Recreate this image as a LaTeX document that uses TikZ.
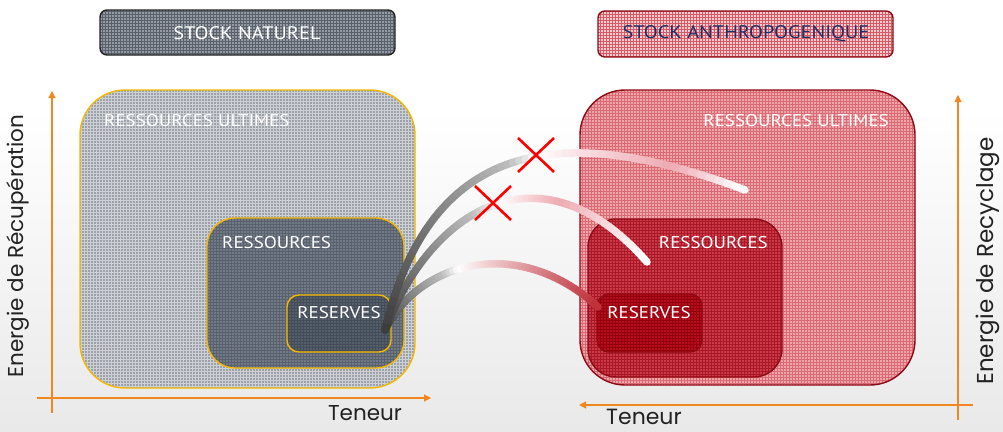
\documentclass[tikz,border=0pt]{standalone}
\usepackage{fontspec}
\setmainfont{PT Sans}
\newfontfamily\boxfont{PT Sans}[FakeStretch=1.12]
\newfontfamily\axisfont{Poppins}
\usetikzlibrary{arrows.meta,patterns}

\definecolor{axisorange}{HTML}{F0881E}
\definecolor{gold}{HTML}{F5B800}
\definecolor{darkred}{HTML}{8E0A14}
\definecolor{navy}{HTML}{1E2F66}
\definecolor{labelgrey}{HTML}{222222}
\definecolor{bggrey}{HTML}{E9E9E9}
% box fills: base colour and grid colour
\definecolor{natbase}{HTML}{959BA4}
\definecolor{natgrid}{HTML}{5A606A}
\definecolor{ultbase}{HTML}{9CA1A9}
\definecolor{ultgrid}{HTML}{CDD0D5}
\definecolor{resbase}{HTML}{717A86}
\definecolor{resgrid}{HTML}{59616C}
\definecolor{rsvbase}{HTML}{555E6B}
\definecolor{rsvgrid}{HTML}{444C58}
\definecolor{antbase}{HTML}{F4CDD0}
\definecolor{antgrid}{HTML}{D65A66}
\definecolor{rultbase}{HTML}{EEA6AB}
\definecolor{rultgrid}{HTML}{D96A73}
\definecolor{rresbase}{HTML}{CB3A45}
\definecolor{rresgrid}{HTML}{A81828}
\definecolor{rrsvbase}{HTML}{B80C1A}
\definecolor{rrsvgrid}{HTML}{920010}
% tube colours
\definecolor{tdark}{HTML}{3C3C3C}
\definecolor{tgrey}{HTML}{BEBEBE}
\definecolor{tpink}{HTML}{EDAAB1}
\definecolor{tred}{HTML}{BE2E38}

% one gradient stretch of a tube between two stored points
\newcommand\tubeseg[5]{% prefix, first index, last index, start colour, end colour
  \pgfmathtruncatemacro\tubelast{#3-1}%
  \foreach \i in {#2,...,\tubelast}{%
    \pgfmathtruncatemacro\j{\i+1}%
    \pgfmathtruncatemacro\p{100*(\i+0.5-#2)/(#3-#2)}%
    \draw[tube, draw=#5!\p!#4] (#1\i) -- (#1\j);
  }}

\begin{document}
\begin{tikzpicture}[x=1pt, y=-1pt,
  box/.style={rounded corners=#1, inner sep=0pt, line width=1.4pt},
  boxlabel/.style={text=white, font=\boxfont\fontsize{17}{19}\selectfont, inner sep=0pt},
  stocklabel/.style={boxlabel, font=\boxfont\fontsize{18.2}{20}\selectfont},
  axis/.style={draw=axisorange, line width=1.1pt},
  axisarrow/.style={axis, -{Triangle[length=7pt, width=7pt]}},
  axislabel/.style={text=labelgrey, font=\axisfont\fontsize{21.5}{24}\selectfont, inner sep=0pt},
  tube/.style={line width=7.5pt, line cap=round},
  cross/.style={draw=red, line width=2.6pt},
]
\useasboundingbox (0,0) rectangle (1003,431);
\fill[white] (0,0) rectangle (1003,431);
\shade[top color=white, bottom color=bggrey] (0,110) rectangle (1003,431);

% ---- headers
\node[box=7pt, draw=black!85, minimum width=295pt, minimum height=45pt,
      preaction={fill=natbase}, pattern=grid, pattern color=natgrid] (natstock) at (247.5,32.5) {};
\node[stocklabel] (natstocktxt) at (247,33) {STOCK NATUREL};

\node[box=7pt, draw=darkred, minimum width=295pt, minimum height=46pt,
      preaction={fill=antbase}, pattern=grid, pattern color=antgrid] (antstock) at (745.5,34) {};
\node[stocklabel, text=navy] (antstocktxt) at (746,34) {STOCK ANTHROPOGENIQUE};

% ---- natural stock
\node[box=45pt, draw=gold, minimum width=335pt, minimum height=298pt,
      preaction={fill=ultbase}, pattern=grid, pattern color=ultgrid] (nult) at (247.5,239) {};
\node[boxlabel, anchor=west] (nulttxt) at (104,121) {RESSOURCES ULTIMES};
\node[box=28pt, draw=gold, minimum width=197pt, minimum height=150pt,
      preaction={fill=resbase}, pattern=grid, pattern color=resgrid] (nres) at (305.5,293) {};
\node[boxlabel, anchor=west] (nrestxt) at (222,243) {RESSOURCES};
\node[box=12pt, draw=gold, minimum width=104pt, minimum height=57pt,
      preaction={fill=rsvbase}, pattern=grid, pattern color=rsvgrid] (nrsv) at (339,323.5) {};
\node[boxlabel] (nrsvtxt) at (339,313) {RESERVES};

% ---- anthropogenic stock
\node[box=45pt, draw=darkred, minimum width=335pt, minimum height=295pt,
      preaction={fill=rultbase}, pattern=grid, pattern color=rultgrid] (rult) at (747.5,237.5) {};
\node[boxlabel, anchor=east] (rulttxt) at (889,121) {RESSOURCES ULTIMES};
\node[box=28pt, draw=darkred, minimum width=194pt, minimum height=158pt,
      preaction={fill=rresbase}, pattern=grid, pattern color=rresgrid] (rres) at (685,298) {};
\node[boxlabel, anchor=east] (rrestxt) at (768,243) {RESSOURCES};
\node[box=12pt, draw=darkred, minimum width=105pt, minimum height=58pt,
      preaction={fill=rrsvbase}, pattern=grid, pattern color=rrsvgrid] (rrsv) at (649.5,323) {};
\node[boxlabel] (rrsvtxt) at (649,313) {RESERVES};

% ---- axes
\coordinate (lorig) at (52,413);
\coordinate (ltop) at (52,91);
\coordinate (lleft) at (37,398);
\coordinate (lright) at (431,398);
\draw[axisarrow] (lorig) -- (ltop);
\draw[axisarrow] (lleft) -- (lright);
\node[axislabel, rotate=90] (lyl) at (18,246) {Energie de Récupération};
\node[axislabel] (lxl) at (365,413) {Teneur};

\coordinate (rorig) at (958,420);
\coordinate (rtop) at (958,95);
\coordinate (rright) at (973,405);
\coordinate (rleft) at (579,405);
\draw[axisarrow] (rorig) -- (rtop);
\draw[axisarrow] (rright) -- (rleft);
\node[axislabel, rotate=90, font=\axisfont\fontsize{23}{26}\selectfont] (ryl) at (988,261) {Energie de Recyclage};
\node[axislabel, font=\axisfont\fontsize{22}{25}\selectfont] (rxl) at (644,416.5) {Teneur};

% ---- flows from the natural reserves
\coordinate (src) at (385,330);
\coordinate (e1) at (745,190);
\coordinate (e2) at (647,262);
\coordinate (e3) at (598,307);

\path (src) .. controls (430,140) and (560,120) .. (e1)
  foreach \k [evaluate=\k as \kp using \k/60] in {0,...,60}{coordinate[pos=\kp] (a\k)};
\path (src) .. controls (430,210) and (540,140) .. (e2)
  foreach \k [evaluate=\k as \kp using \k/60] in {0,...,60}{coordinate[pos=\kp] (b\k)};
\path (src) .. controls (420,260) and (520,235) .. (e3)
  foreach \k [evaluate=\k as \kp using \k/60] in {0,...,60}{coordinate[pos=\kp] (c\k)};

\tubeseg{c}{0}{22}{tdark}{tgrey}
\tubeseg{c}{22}{26}{tgrey}{white}
\tubeseg{c}{26}{60}{white}{tred}

\tubeseg{b}{0}{26}{tdark}{tgrey}
\tubeseg{b}{26}{32}{tgrey}{white}
\tubeseg{b}{32}{44}{white}{tpink}
\tubeseg{b}{44}{60}{tpink}{white}

\tubeseg{a}{0}{30}{tdark}{tgrey}
\tubeseg{a}{30}{34}{tgrey}{white}
\tubeseg{a}{34}{52}{white}{tpink}
\tubeseg{a}{52}{60}{tpink}{white}

% ---- blocked paths
\coordinate (x1) at (536,155);
\coordinate (x2) at (493,203);
\draw[cross] ([shift={(-18,-17)}]x1) -- ([shift={(18,17)}]x1);
\draw[cross] ([shift={(-18,17)}]x1) -- ([shift={(18,-17)}]x1);
\draw[cross] ([shift={(-18,-17)}]x2) -- ([shift={(18,17)}]x2);
\draw[cross] ([shift={(-18,17)}]x2) -- ([shift={(18,-17)}]x2);
\end{tikzpicture}
\end{document}
